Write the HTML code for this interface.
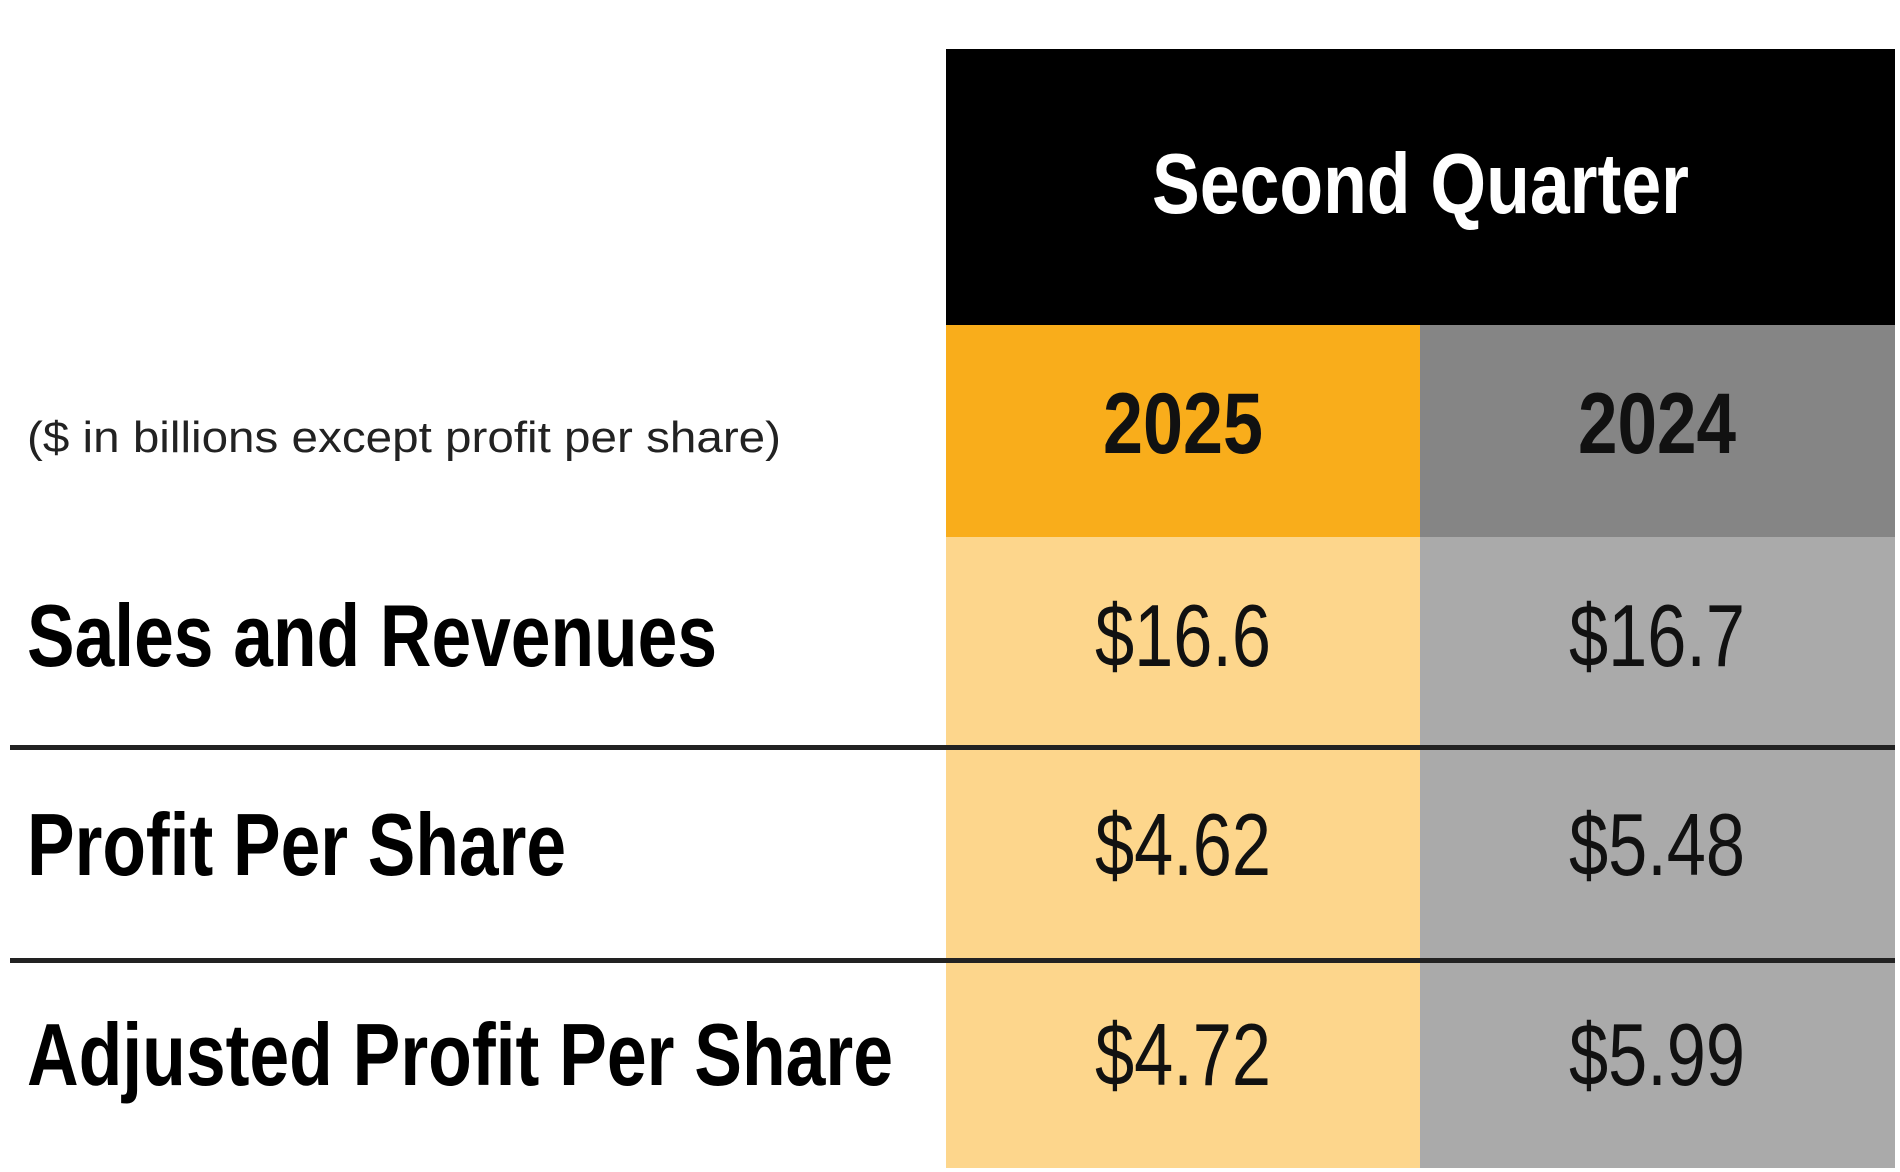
<!DOCTYPE html>
<html><head><meta charset="utf-8"><style>
html,body{margin:0;padding:0;background:#fff;}
svg{display:block;}
text{font-family:"Liberation Sans Narrow","Liberation Sans",Arial,sans-serif;}
</style></head><body>
<svg width="1900" height="1172" viewBox="0 0 1900 1172">
  <rect x="946" y="49" width="949" height="276" fill="#000"/>
  <rect x="946" y="325" width="474" height="212" fill="#F9AD1B"/>
  <rect x="1420" y="325" width="475" height="212" fill="#858585"/>
  <rect x="946" y="537" width="474" height="631" fill="#FDD68C"/>
  <rect x="1420" y="537" width="475" height="631" fill="#AAAAAA"/>
  <rect x="10" y="745" width="1885" height="5" fill="#222"/>
  <rect x="10" y="958" width="1885" height="5" fill="#222"/>

  <text x="1152" y="213" textLength="537" lengthAdjust="spacingAndGlyphs" font-size="85" font-weight="bold" fill="#fff">Second Quarter</text>
  <text x="27" y="452" textLength="754" lengthAdjust="spacingAndGlyphs" font-size="44" fill="#222">($ in billions except profit per share)</text>
  <text x="1103" y="453" textLength="160" lengthAdjust="spacingAndGlyphs" font-size="86" font-weight="bold" fill="#111">2025</text>
  <text x="1578" y="453" textLength="158" lengthAdjust="spacingAndGlyphs" font-size="86" font-weight="bold" fill="#111">2024</text>

  <text x="27" y="666" textLength="690" lengthAdjust="spacingAndGlyphs" font-size="88" font-weight="bold" fill="#000">Sales and Revenues</text>
  <text x="1095" y="666" textLength="176" lengthAdjust="spacingAndGlyphs" font-size="88" fill="#111">$16.6</text>
  <text x="1569" y="666" textLength="176" lengthAdjust="spacingAndGlyphs" font-size="88" fill="#111">$16.7</text>

  <text x="27" y="875" textLength="539" lengthAdjust="spacingAndGlyphs" font-size="88" font-weight="bold" fill="#000">Profit Per Share</text>
  <text x="1095" y="875" textLength="176" lengthAdjust="spacingAndGlyphs" font-size="88" fill="#111">$4.62</text>
  <text x="1569" y="875" textLength="176" lengthAdjust="spacingAndGlyphs" font-size="88" fill="#111">$5.48</text>

  <text x="27" y="1085" textLength="866" lengthAdjust="spacingAndGlyphs" font-size="88" font-weight="bold" fill="#000">Adjusted Profit Per Share</text>
  <text x="1095" y="1085" textLength="176" lengthAdjust="spacingAndGlyphs" font-size="88" fill="#111">$4.72</text>
  <text x="1569" y="1085" textLength="176" lengthAdjust="spacingAndGlyphs" font-size="88" fill="#111">$5.99</text>
</svg>
</body></html>
